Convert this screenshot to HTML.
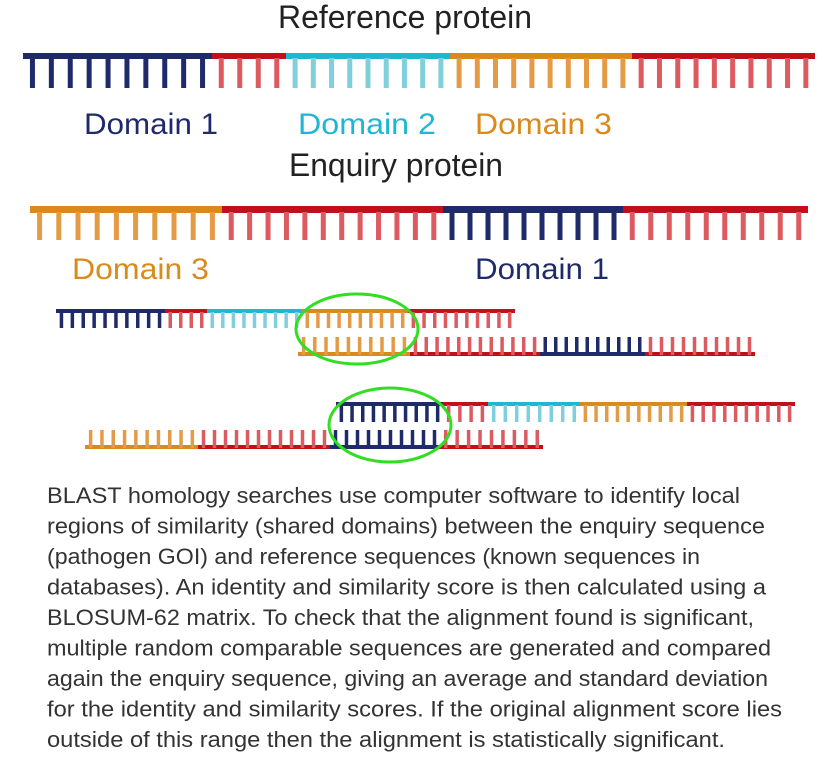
<!DOCTYPE html>
<html><head><meta charset="utf-8"><style>
html,body{margin:0;padding:0;background:#fff;width:839px;height:761px;overflow:hidden}
svg{display:block}
.t{font-family:"Liberation Sans",sans-serif}
</style></head><body>
<svg id="s" width="839" height="761" xmlns="http://www.w3.org/2000/svg">
<g class="t" font-size="32" fill="#222">
<text x="278" y="28" textLength="254" lengthAdjust="spacingAndGlyphs">Reference protein</text>
<text x="289" y="176" textLength="214" lengthAdjust="spacingAndGlyphs">Enquiry protein</text>
</g>
<g class="t" font-size="30">
<text x="84" y="134" fill="#1f2a6b" textLength="134" lengthAdjust="spacingAndGlyphs">Domain 1</text>
<text x="298" y="134" fill="#1fb6d6" textLength="138" lengthAdjust="spacingAndGlyphs">Domain 2</text>
<text x="475" y="134" fill="#d98a1a" textLength="137" lengthAdjust="spacingAndGlyphs">Domain 3</text>
<text x="72" y="279" fill="#d98a1a" textLength="137" lengthAdjust="spacingAndGlyphs">Domain 3</text>
<text x="475" y="279" fill="#1f2a6b" textLength="134" lengthAdjust="spacingAndGlyphs">Domain 1</text>
</g>
<g id="strands"></g>
<ellipse cx="357" cy="329" rx="61" ry="35" fill="none" stroke="#33dd22" stroke-width="3"/>
<ellipse cx="390" cy="425" rx="61" ry="37" fill="none" stroke="#33dd22" stroke-width="3"/>
<g class="t" font-size="22.5" fill="#333">
<text x="47" y="503" textLength="693" lengthAdjust="spacingAndGlyphs">BLAST homology searches use computer software to identify local</text>
<text x="47" y="533.5" textLength="718" lengthAdjust="spacingAndGlyphs">regions of similarity (shared domains) between the enquiry sequence</text>
<text x="47" y="564" textLength="653" lengthAdjust="spacingAndGlyphs">(pathogen GOI) and reference sequences (known sequences in</text>
<text x="47" y="594.5" textLength="719" lengthAdjust="spacingAndGlyphs">databases). An identity and similarity score is then calculated using a</text>
<text x="47" y="625" textLength="707" lengthAdjust="spacingAndGlyphs">BLOSUM-62 matrix. To check that the alignment found is significant,</text>
<text x="47" y="655.5" textLength="724" lengthAdjust="spacingAndGlyphs">multiple random comparable sequences are generated and compared</text>
<text x="47" y="686" textLength="721" lengthAdjust="spacingAndGlyphs">again the enquiry sequence, giving an average and standard deviation</text>
<text x="47" y="716.5" textLength="735" lengthAdjust="spacingAndGlyphs">for the identity and similarity scores. If the original alignment score lies</text>
<text x="47" y="747" textLength="678" lengthAdjust="spacingAndGlyphs">outside of this range then the alignment is statistically significant.</text>
</g>
</svg>
<script>
var C={n:["#1f2a6b","#2a3578"],r:["#c0101a","#dc5a60"],c:["#1fb6d6","#80d0dc"],o:["#d98a1a","#e39c45"]};
var g=document.getElementById("strands"),ns="http://www.w3.org/2000/svg";
function R(x,y,w,h,f){var r=document.createElementNS(ns,"rect");r.setAttribute("x",x);r.setAttribute("y",y);r.setAttribute("width",w);r.setAttribute("height",h);r.setAttribute("fill",f);g.appendChild(r);}
function S(segs,by,bh,ty0,ty1,sp,tw){
 segs.forEach(function(s){var c=C[s[0]];
  R(s[1],by,s[2]-s[1],bh,c[0]);
  var n=Math.max(1,Math.round((s[2]-s[1])/sp));var step=(s[2]-s[1])/n;
  for(var i=0;i<n;i++){var x=s[1]+step*(i+0.5)-tw/2;R(x,ty0,tw,ty1-ty0,s[0]=="n"?c[0]:c[1]);}
 });
}
S([["n",23,212],["r",212,286],["c",286,450],["o",450,632],["r",632,815]],53,6,58,88,19,5);
S([["o",30,222],["r",222,443],["n",443,623],["r",623,808]],206,7,212,240,18.5,5);
S([["n",56,165],["r",165,207],["c",207,302],["o",302,408],["r",408,515]],309,4,312,328,11,3.5);
S([["o",298,410],["r",410,540],["n",540,645],["r",645,755]],352,4,337,355,11,3.5);
S([["n",336,443],["r",443,488],["c",488,580],["o",580,687],["r",687,795]],402,4,405,422,11,3.5);
S([["o",85,198],["r",198,330],["n",330,440],["r",440,543]],445,4,430,448,11,3.5);
</script>
</body></html>
